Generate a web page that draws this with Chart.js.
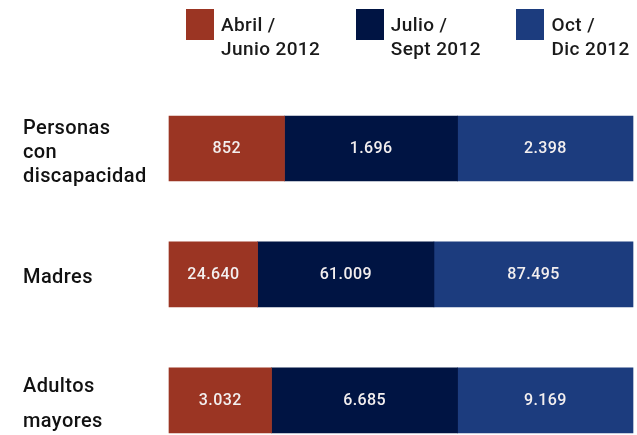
<!DOCTYPE html>
<html>
<head>
<meta charset="utf-8">
<script src="https://cdn.jsdelivr.net/npm/chart.js@4.4.1/dist/chart.umd.min.js"></script>
<style>
  html, body { margin: 0; padding: 0; background: #ffffff; }
  #wrap { position: relative; width: 637px; height: 435px; overflow: hidden; }
  #legend { position: absolute; left: 186px; top: 9px; display: flex; gap: 35.5px;
            font-family: Roboto, "DejaVu Sans", sans-serif; font-weight: 500; font-size: 19px; line-height: 24px;
            letter-spacing: 0.4px; color: #1a1a1a; }
  .item { display: flex; align-items: flex-start; }
  .box { width: 28px; height: 31px; margin-right: 7px; flex: none; }
  .txt { padding-top: 4px; white-space: nowrap; }
</style>
</head>
<body>
<div id="wrap">
  <canvas id="c"></canvas>
  <div id="legend"></div>
</div>
<script>
// ---- data ----
const categories = [['Personas', 'con', 'discapacidad'], 'Madres', ['Adultos', 'mayores']];
const seriesNames = [['Abril /', 'Junio 2012'], ['Julio /', 'Sept 2012'], ['Oct /', 'Dic 2012']];
// values printed on the bars
const abrJunValues = [852, 24640, 3032];
const julSepValues = [1696, 61009, 6685];
const octDicValues = [2398, 87495, 9169];
// bar lengths as drawn in the picture (% of each row)
const abrJunShare = [24.9, 19.1, 22.1];
const julSepShare = [37.3, 38.0, 40.1];
const octDicShare = [37.8, 42.9, 37.8];

const colors = ['#9b3523', '#001443', '#1c3c7e'];
const values = [abrJunValues, julSepValues, octDicValues];
const shares = [abrJunShare, julSepShare, octDicShare];

function fmt(n) { return String(n).replace(/\B(?=(\d{3})+(?!\d))/g, '.'); }

const textSpacing = {
  id: 'textSpacing',
  beforeDraw(chart) { chart.ctx.letterSpacing = '0.4px'; },
  afterDraw(chart) { chart.ctx.letterSpacing = '0px'; }
};

const barLabels = {
  id: 'barLabels',
  afterDatasetsDraw(chart) {
    const ctx = chart.ctx;
    ctx.save();
    ctx.font = '500 16px Roboto, "DejaVu Sans", sans-serif';
    ctx.fillStyle = '#f3efef';
    ctx.textAlign = 'center';
    ctx.textBaseline = 'middle';
    chart.data.datasets.forEach((ds, di) => {
      const meta = chart.getDatasetMeta(di);
      meta.data.forEach((el, i) => {
        const p = el.getCenterPoint();
        ctx.fillText(fmt(ds.values[i]), p.x, p.y + 0.5);
      });
    });
    ctx.restore();
  }
};

const htmlLegend = {
  id: 'htmlLegend',
  afterUpdate(chart) {
    const el = document.getElementById('legend');
    el.innerHTML = '';
    chart.options.plugins.legend.labels.generateLabels(chart).forEach(item => {
      const it = document.createElement('div');
      it.className = 'item';
      const b = document.createElement('div');
      b.className = 'box';
      b.style.background = item.fillStyle;
      const t = document.createElement('div');
      t.className = 'txt';
      const lines = chart.data.datasets[item.datasetIndex].legendLines;
      t.innerHTML = lines.join('<br>');
      it.appendChild(b); it.appendChild(t);
      el.appendChild(it);
    });
  }
};

new Chart(document.getElementById('c'), {
  type: 'bar',
  data: {
    labels: categories,
    datasets: seriesNames.map((name, k) => ({
      label: name.join(' '),
      legendLines: name,
      data: shares[k],
      values: values[k],
      backgroundColor: colors[k],
      borderWidth: 0,
      barThickness: 65,
      clip: false
    }))
  },
  options: {
    indexAxis: 'y',
    responsive: true,
    maintainAspectRatio: false,
    animation: false,
    layout: { padding: { left: 23, right: 4, top: 148.5, bottom: 34.7 } },
    plugins: {
      legend: { display: false },
      tooltip: { enabled: false }
    },
    scales: {
      x: { stacked: true, min: 0, max: 100, display: false },
      y: {
        stacked: true,
        offset: false,
        grid: { display: false },
        border: { display: false },
        afterFit(scale) { scale.width = 146; scale.paddingTop = 0; scale.paddingBottom = 0; },
        ticks: {
          crossAlign: 'far',
          labelOffset: 4,
          color: '#111111',
          font: (c) => ({ family: 'Roboto, "DejaVu Sans", sans-serif', weight: 500, size: 20, lineHeight: c.index === 2 ? 1.72 : 1.2 })
        }
      }
    }
  },
  plugins: [textSpacing, barLabels, htmlLegend]
});
</script>
</body>
</html>
